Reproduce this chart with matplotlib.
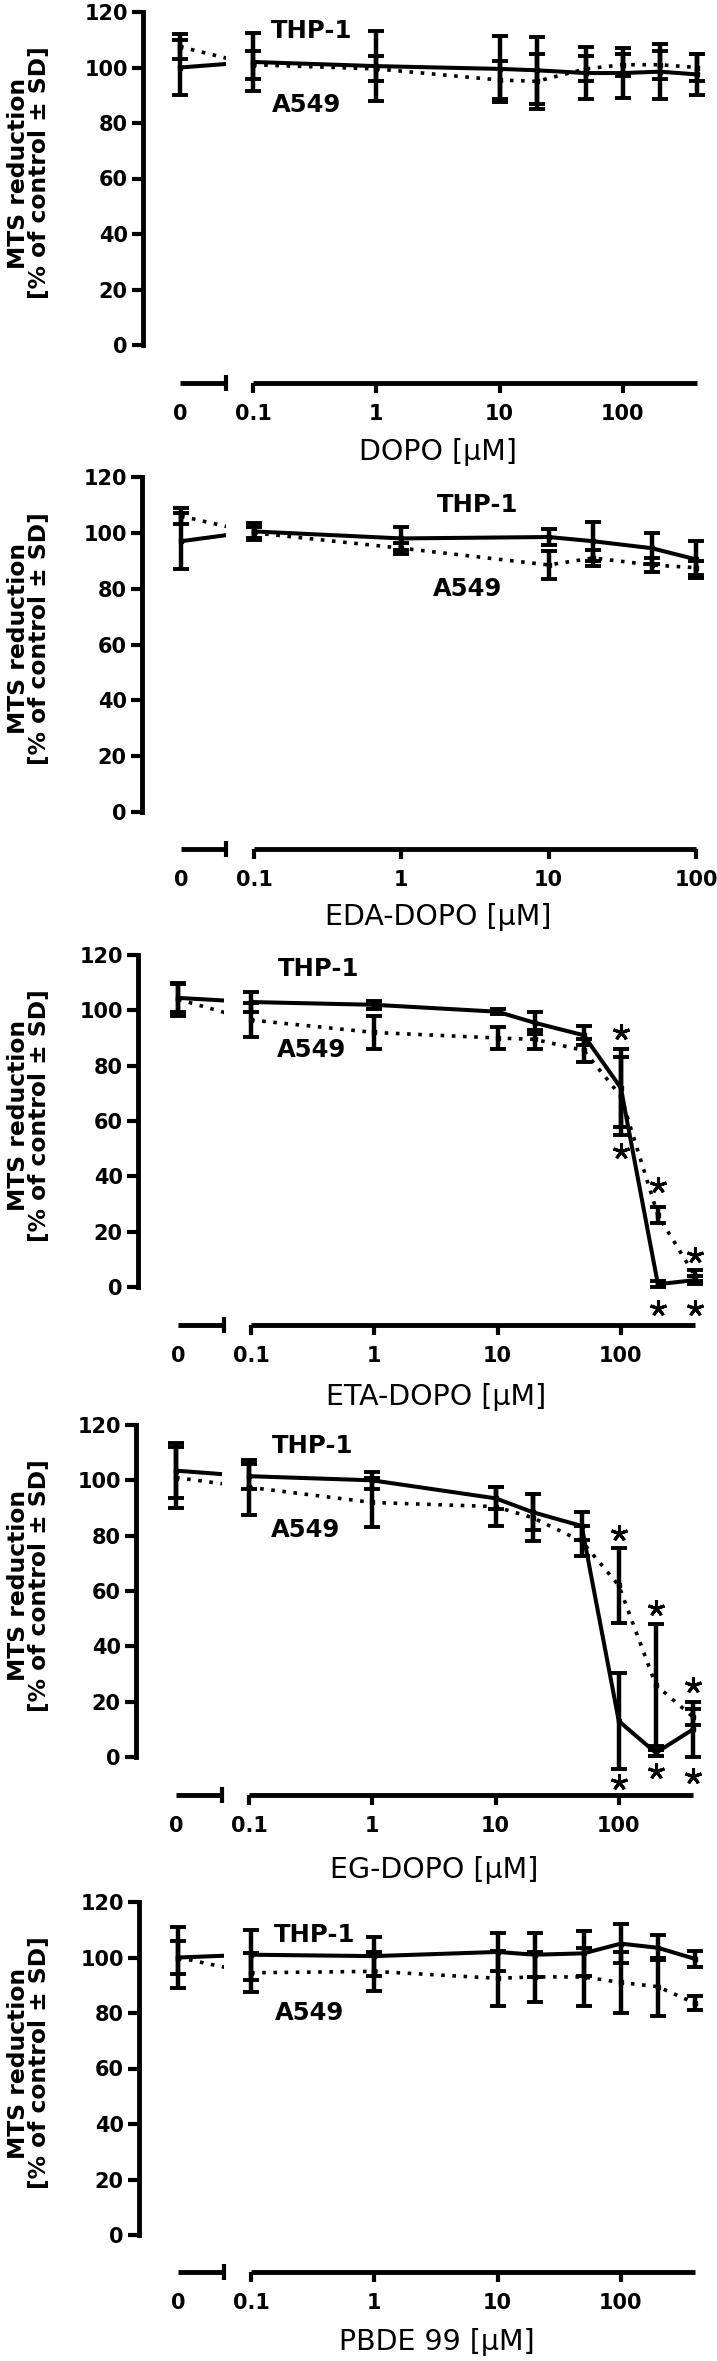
import matplotlib
matplotlib.use("Agg")
import matplotlib.pyplot as plt
from matplotlib.ticker import FixedLocator, FixedFormatter

plt.rcParams["font.family"] = ["DejaVu Sans"]

W, H, DPI = 717, 2361, 100

# concentrations [uM]
conc_400 = [0, 0.1, 1, 10, 20, 50, 100, 200, 400]
conc_100 = [0, 0.1, 1, 10, 20, 50, 100]

# MTS reduction, % of control (mean, SD)
dopo_thp1 = [100, 102, 100.5, 99.5, 99, 98, 98, 98.5, 97.5]
dopo_thp1_sd = [10, 10.5, 12.5, 12, 12, 9.5, 9, 10, 7.5]
dopo_a549 = [107.5, 101, 99.5, 95.5, 95, 99.5, 101, 101, 100]
dopo_a549_sd = [4.5, 5, 4.5, 7, 10, 4.5, 4, 5, 5]

eda_thp1 = [97, 100.5, 98, 98.5, 97, 94.5, 90.5]
eda_thp1_sd = [10, 3, 4, 3, 7, 5.5, 6.5]
eda_a549 = [106, 100, 94.5, 88.5, 91, 88.5, 87.5]
eda_a549_sd = [3, 2, 2, 5, 3, 2.5, 2.5]

eta_thp1 = [104.5, 103, 102, 99.5, 95.5, 91, 72, 1, 2.5]
eta_thp1_sd = [5, 3.5, 1.5, 1, 4, 3.5, 14, 1, 1.5]
eta_a549 = [104, 96.5, 92, 90, 89.5, 85.5, 69, 26, 4]
eta_a549_sd = [6, 6, 6, 4, 3.5, 4, 14, 3, 2]

eg_thp1 = [103.5, 101.5, 100, 93.5, 88.5, 83.5, 13, 1.5, 10]
eg_thp1_sd = [10, 4.5, 3, 4, 6.5, 5, 17.5, 1, 10]
eg_a549 = [101, 97.5, 92, 90.5, 86.5, 78, 62, 26, 14.5]
eg_a549_sd = [11, 10, 9, 7, 8.5, 5.5, 13.5, 22, 3]

pbde_thp1 = [100, 101, 100.5, 102, 101, 101.5, 105, 103.5, 99.5]
pbde_thp1_sd = [11, 9, 7, 7, 8, 8, 7, 4.5, 3]
pbde_a549 = [100, 94.5, 95, 92.5, 93, 93, 91, 89.5, 83.5]
pbde_a549_sd = [6, 7, 7, 10, 9, 10.5, 11, 10.5, 2.5]

# significance asterisks (concentration, height)
eta_star_x = [100, 100, 200, 200, 400, 400]
eta_star_y = [92, 49, 37, -7.5, 11.5, -7.5]
eg_star_x = [100, 100, 200, 200, 400, 400]
eg_star_y = [81, -9, 54, -5, 26, -7]

x_titles = ["DOPO [µM]", "EDA-DOPO [µM]", "ETA-DOPO [µM]", "EG-DOPO [µM]", "PBDE 99 [µM]"]
y_title = "MTS reduction\n[% of control ± SD]"

# series label anchors (concentration, value) for THP-1 and A549
thp1_label = [(0.3, 113), (3.3, 110), (0.35, 115), (0.33, 112.5), (0.33, 108)]
a549_label = [(0.27, 86.5), (2.8, 80), (0.31, 85.5), (0.29, 82), (0.3, 80)]

panels = [
    (conc_400, dopo_thp1, dopo_thp1_sd, dopo_a549, dopo_a549_sd, [], []),
    (conc_100, eda_thp1, eda_thp1_sd, eda_a549, eda_a549_sd, [], []),
    (conc_400, eta_thp1, eta_thp1_sd, eta_a549, eta_a549_sd, eta_star_x, eta_star_y),
    (conc_400, eg_thp1, eg_thp1_sd, eg_a549, eg_a549_sd, eg_star_x, eg_star_y),
    (conc_400, pbde_thp1, pbde_thp1_sd, pbde_a549, pbde_a549_sd, [], []),
]

# pixel layout per panel: y of 120, y of 0, x-axis y, y-axis x, x of "0", break x, x of 0.1, right end
LAYOUT = [
    (12, 345, 383, 143, 180, 226, 253, 697),
    (477, 812, 849, 142, 181, 226, 254, 696),
    (955, 1287, 1325, 138, 178, 224, 251, 695),
    (1425, 1757, 1795, 136, 176, 222, 249, 693),
    (1902, 2235, 2272, 139, 178, 224, 251, 695),
]
XLABEL_DY = [69, 68, 72, 75, 70]

SPINE_LW = 3.5
LINE_LW = 2.9
DOT_LW = 2.6
SOLID = dict(color="black", lw=LINE_LW, linestyle="-", marker="s", ms=3.5)
DOTTED = dict(color="black", lw=DOT_LW, linestyle=(0, (1.0, 2.1)), marker="s", ms=3.5)
EBAR = dict(fmt="none", ecolor="black", elinewidth=3.2, capsize=5.5, capthick=2.8)
TICK_FS = 15

fig = plt.figure(figsize=(W / DPI, H / DPI), dpi=DPI)

for i, (conc, thp, thp_sd, a5, a5_sd, sx, sy) in enumerate(panels):
    top, zero, xaxis, yaxis, zero_x, brk, first_x, end_x = LAYOUT[i]
    per_px = 120 / (zero - top)
    ylim = (-(xaxis - zero) * per_px, 120)

    ax0 = fig.add_axes([yaxis / W, 1 - xaxis / H, (brk - yaxis) / W, (xaxis - top) / H])
    ax1 = fig.add_axes([first_x / W, 1 - xaxis / H, (end_x - first_x) / W, (xaxis - top) / H])
    for ax in (ax0, ax1):
        ax.set_ylim(*ylim)
        ax.patch.set_visible(False)
        for side in ("top", "right"):
            ax.spines[side].set_visible(False)
        ax.spines["bottom"].set_linewidth(SPINE_LW)
        ax.spines["left"].set_linewidth(SPINE_LW)
        ax.spines["bottom"].set_capstyle("butt")

    # zero segment (linear) -- 0.1 lands at the first log position
    scale = conc[1] / (first_x - zero_x)
    x_lo, x_hi = (yaxis - zero_x) * scale, (brk - zero_x) * scale
    ax0.set_xlim(x_lo, x_hi)
    ax0.spines["bottom"].set_bounds(0, x_hi)
    ax0.spines["left"].set_bounds(0, 120)
    ax0.set_yticks(range(0, 121, 20))
    ax0.set_xticks([0])
    ax0.set_xticklabels(["0"])
    ax0.xaxis.set_minor_locator(FixedLocator([x_hi]))
    ax0.tick_params(axis="x", which="major", length=0, pad=15, labelsize=TICK_FS)
    ax0.tick_params(axis="x", which="minor", direction="inout", length=12, width=3)
    ax0.tick_params(axis="y", length=8, width=3, pad=3, labelsize=TICK_FS)
    for lab in ax0.get_xticklabels() + ax0.get_yticklabels():
        lab.set_fontweight("bold")

    ax0.plot(conc[:2], thp[:2], **SOLID)
    ax0.plot(conc[:2], a5[:2], **DOTTED)
    ax0.errorbar(conc[:1], thp[:1], yerr=thp_sd[:1], **EBAR)
    ax0.errorbar(conc[:1], a5[:1], yerr=a5_sd[:1], **EBAR)

    # log segment
    ax1.set_xscale("log")
    ax1.set_xlim(conc[1], conc[-1])
    ax1.spines["left"].set_visible(False)
    ax1.tick_params(axis="y", left=False, labelleft=False)
    majors = [c for c in (0.1, 1, 10, 100) if c <= conc[-1]]
    ax1.xaxis.set_major_locator(FixedLocator(majors))
    ax1.xaxis.set_major_formatter(FixedFormatter([f"{c:g}" for c in majors]))
    ax1.xaxis.set_minor_locator(FixedLocator([conc[1]]))
    ax1.xaxis.set_minor_formatter(FixedFormatter([""]))
    ax1.tick_params(axis="x", which="major", direction="out", length=7, width=3, pad=8,
                    labelsize=TICK_FS)
    ax1.tick_params(axis="x", which="minor", direction="inout", length=12, width=3)
    for lab in ax1.get_xticklabels():
        lab.set_fontweight("bold")

    ax1.plot(conc[1:], thp[1:], clip_on=False, **SOLID)
    ax1.plot(conc[1:], a5[1:], clip_on=False, **DOTTED)
    for bars in (ax1.errorbar(conc[1:], thp[1:], yerr=thp_sd[1:], **EBAR),
                 ax1.errorbar(conc[1:], a5[1:], yerr=a5_sd[1:], **EBAR)):
        for art in bars.lines[1] + bars.lines[2]:
            art.set_clip_on(False)

    if sx:
        ax1.plot(sx, sy, linestyle="none", marker=(5, 2, 0), ms=12, mew=2.2,
                 color="black", clip_on=False)

    ax1.text(*thp1_label[i], "THP-1", ha="center", va="center", fontsize=17.5, fontweight="bold")
    ax1.text(*a549_label[i], "A549", ha="center", va="center", fontsize=17.5, fontweight="bold")

    # axis titles
    fig.text((zero_x + end_x) / 2 / W, 1 - (xaxis + XLABEL_DY[i]) / H, x_titles[i],
             ha="center", va="center", fontsize=20.5)
    fig.text(29 / W, 1 - (zero - 62 / per_px) / H, y_title, rotation=90,
             ha="center", va="center", fontsize=16.8, fontweight="bold",
             multialignment="center", linespacing=0.85)

fig.savefig("out.png", dpi=DPI)
